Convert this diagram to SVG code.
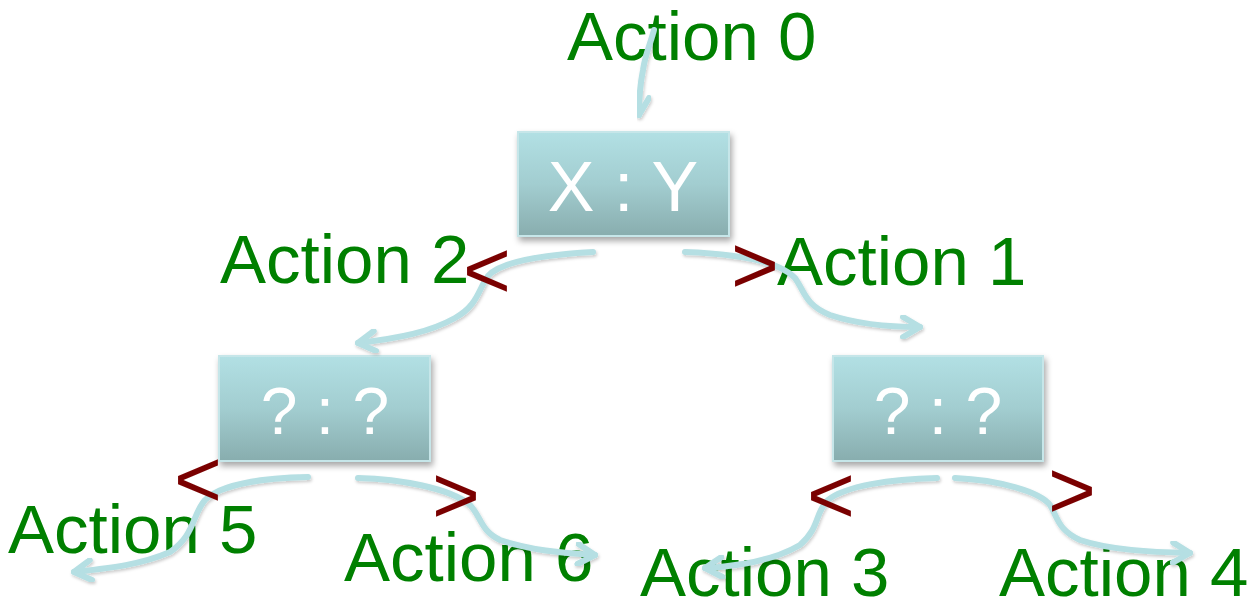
<svg xmlns="http://www.w3.org/2000/svg" width="1247" height="607" viewBox="0 0 1247 607">
<defs>
<linearGradient id="boxg" x1="0" y1="0" x2="0" y2="1">
<stop offset="0" stop-color="#b2e0e4"/>
<stop offset="0.5" stop-color="#a2cdd0"/>
<stop offset="1" stop-color="#88adae"/>
</linearGradient>
<filter id="sh" x="-10%" y="-10%" width="130%" height="140%">
<feDropShadow dx="2" dy="4" stdDeviation="3" flood-color="#000" flood-opacity="0.35"/>
</filter>
<filter id="ash" x="-10%" y="-20%" width="130%" height="150%">
<feDropShadow dx="1" dy="2" stdDeviation="1.5" flood-color="#000" flood-opacity="0.2"/>
</filter>
<marker id="arr" viewBox="0 0 24 24" refX="20" refY="12" markerWidth="24" markerHeight="24" markerUnits="userSpaceOnUse" orient="auto">
<path d="M3,2 L20,12 L3,22" fill="none" stroke="#b5dfe3" stroke-width="6" stroke-linecap="round" stroke-linejoin="round"/>
</marker>
</defs>
<style>
.box{fill:url(#boxg);stroke:#c6e6e9;stroke-width:2;filter:url(#sh)}
.bt{font-family:"Liberation Sans",Arial,sans-serif;fill:#fff;text-anchor:middle}
.lbl{font-family:"Liberation Sans",Arial,sans-serif;font-size:69px;fill:#008000}
.cmp{font-family:"Liberation Sans",Arial,sans-serif;font-size:82px;fill:#7a0000}
.con{fill:none;stroke:#b5dfe3;stroke-width:6;stroke-linecap:round;marker-end:url(#arr);filter:url(#ash)}
</style>
<g id="labels">
<text class="lbl" x="567" y="60">Action 0</text>
<text class="lbl" x="220" y="283">Action 2</text>
<text class="lbl" x="777" y="285">Action 1</text>
<text class="lbl" x="8" y="553">Action 5</text>
<text class="lbl" x="344" y="581">Action 6</text>
<text class="lbl" x="640" y="596">Action 3</text>
<text class="lbl" x="999" y="596">Action 4</text>
</g>
<g id="node-root">
<rect class="box" x="518" y="132" width="211" height="104"/>
<text class="bt" x="623" y="211" font-size="70">X : Y</text>
</g>
<g id="node-left">
<rect class="box" x="219" y="356" width="211" height="105"/>
<text class="bt" x="325" y="434" font-size="66">? : ?</text>
</g>
<g id="node-right">
<rect class="box" x="833" y="356" width="210" height="105"/>
<text class="bt" x="938" y="434" font-size="66">? : ?</text>
</g>
<g id="connectors">
<path class="con" d="M654,30 C650,45 645,55 643,70 C640,85 639,100 639,115"/>
<path class="con" d="M593,252 C540,255 500,262 488,276 C478,290 478,305 455,318 C430,332 400,338 358,343"/>
<path class="con" d="M685,252 C740,254 780,262 795,278 C805,292 805,305 830,315 C860,325 890,327 920,327"/>
<path class="con" d="M308,477 C260,478 220,485 205,500 C192,515 195,535 170,552 C140,565 110,568 74,572"/>
<path class="con" d="M358,478 C400,479 450,488 470,505 C482,518 480,530 500,540 C530,550 560,553 595,555"/>
<path class="con" d="M937,478 C890,479 845,486 828,500 C815,512 820,528 800,545 C775,560 740,566 705,568"/>
<path class="con" d="M955,478 C1000,480 1040,492 1050,505 C1058,518 1058,530 1080,540 C1110,550 1150,552 1190,553"/>
</g>
<g id="comparisons">
<text class="cmp" x="463" y="298">&lt;</text>
<text class="cmp" x="731" y="293">&gt;</text>
<text class="cmp" x="174" y="507">&lt;</text>
<text class="cmp" x="432" y="523">&gt;</text>
<text class="cmp" x="807" y="523">&lt;</text>
<text class="cmp" x="1048" y="518">&gt;</text>
</g>
</svg>
